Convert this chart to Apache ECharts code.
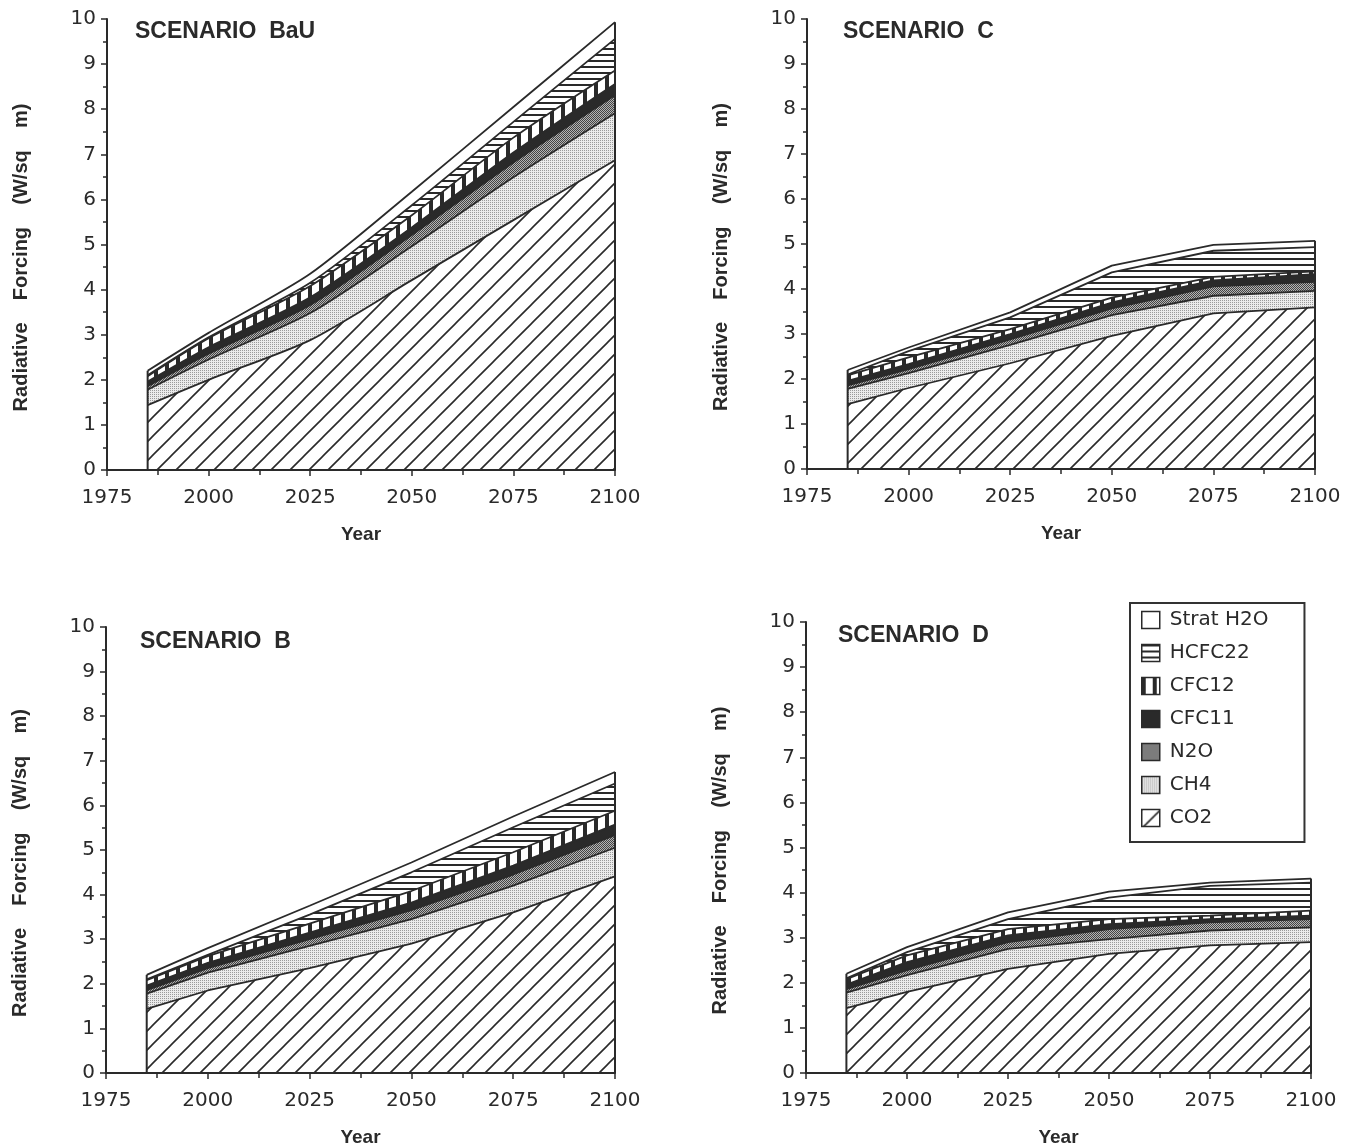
<!DOCTYPE html>
<html><head><meta charset="utf-8">
<script src="https://cdn.jsdelivr.net/npm/echarts@6/dist/echarts.min.js"></script>
<style>html,body{margin:0;padding:0;background:#fff}#c{width:1360px;height:1148px}</style>
</head><body><div id="c"></div>
<script>
// ---- data ----
const years = [1985, 2000, 2025, 2050, 2075, 2100];
const gases = ['CO2', 'CH4', 'N2O', 'CFC11', 'CFC12', 'HCFC22', 'Strat H2O'];
const legendOrder = ['Strat H2O', 'HCFC22', 'CFC12', 'CFC11', 'N2O', 'CH4', 'CO2'];
const scenarioTitles = ['SCENARIO  BaU', 'SCENARIO  C', 'SCENARIO  B', 'SCENARIO  D'];

// Scenario BaU (W/sq m contribution of each gas)
const bauCO2    = [1.44, 2.00, 2.88, 4.21, 5.54, 6.87];
const bauCH4    = [0.34, 0.45, 0.60, 0.75, 0.95, 1.04];
const bauN2O    = [0.08, 0.13, 0.18, 0.25, 0.33, 0.40];
const bauCFC11  = [0.10, 0.14, 0.17, 0.17, 0.22, 0.25];
const bauCFC12  = [0.12, 0.20, 0.25, 0.27, 0.33, 0.30];
const bauHCFC22 = [0.02, 0.02, 0.07, 0.22, 0.35, 0.70];
const bauH2O    = [0.10, 0.10, 0.20, 0.30, 0.33, 0.37];

// Scenario C
const cCO2    = [1.44, 1.80, 2.35, 2.96, 3.46, 3.59];
const cCH4    = [0.34, 0.33, 0.41, 0.46, 0.39, 0.37];
const cN2O    = [0.08, 0.09, 0.12, 0.15, 0.21, 0.20];
const cCFC11  = [0.10, 0.11, 0.12, 0.13, 0.13, 0.17];
const cCFC12  = [0.12, 0.15, 0.11, 0.11, 0.08, 0.06];
const cHCFC22 = [0.02, 0.14, 0.26, 0.56, 0.58, 0.54];
const cH2O    = [0.10, 0.08, 0.11, 0.15, 0.13, 0.14];

// Scenario B
const bCO2    = [1.44, 1.85, 2.35, 2.90, 3.60, 4.41];
const bCH4    = [0.34, 0.40, 0.50, 0.55, 0.60, 0.64];
const bN2O    = [0.08, 0.10, 0.15, 0.20, 0.25, 0.28];
const bCFC11  = [0.10, 0.12, 0.15, 0.17, 0.20, 0.24];
const bCFC12  = [0.12, 0.15, 0.20, 0.26, 0.30, 0.31];
const bHCFC22 = [0.02, 0.03, 0.20, 0.42, 0.56, 0.61];
const bH2O    = [0.10, 0.15, 0.20, 0.22, 0.24, 0.26];

// Scenario D
const dCO2    = [1.44, 1.80, 2.31, 2.64, 2.83, 2.90];
const dCH4    = [0.34, 0.37, 0.44, 0.33, 0.33, 0.33];
const dN2O    = [0.08, 0.11, 0.15, 0.22, 0.18, 0.18];
const dCFC11  = [0.10, 0.18, 0.15, 0.11, 0.07, 0.08];
const dCFC12  = [0.12, 0.15, 0.14, 0.11, 0.08, 0.11];
const dHCFC22 = [0.02, 0.07, 0.22, 0.48, 0.66, 0.62];
const dH2O    = [0.10, 0.11, 0.15, 0.13, 0.07, 0.09];

const scenarioLayers = [
  [bauCO2, bauCH4, bauN2O, bauCFC11, bauCFC12, bauHCFC22, bauH2O],
  [cCO2, cCH4, cN2O, cCFC11, cCFC12, cHCFC22, cH2O],
  [bCO2, bCH4, bN2O, bCFC11, bCFC12, bHCFC22, bH2O],
  [dCO2, dCH4, dN2O, dCFC11, dCFC12, dHCFC22, dH2O]
];
const scenarioSmooth = [0.25, 0, 0, 0];

// ---- styles ----
const INK = '#2a2a2a';
function tile(w, h, draw) {
  const c = document.createElement('canvas');
  c.width = w; c.height = h;
  const g = c.getContext('2d');
  g.fillStyle = '#fff'; g.fillRect(0, 0, w, h);
  draw(g);
  return { image: c, repeat: 'repeat' };
}
const fills = {
  'CO2': tile(19, 19, g => {
    g.strokeStyle = INK; g.lineWidth = 1.6; g.beginPath();
    g.moveTo(-2, 21); g.lineTo(21, -2);
    g.moveTo(-2, 2); g.lineTo(2, -2);
    g.moveTo(17, 21); g.lineTo(21, 17);
    g.stroke();
  }),
  'CH4': tile(2, 2, g => {
    g.fillStyle = '#ebebeb'; g.fillRect(0, 0, 2, 2);
    g.fillStyle = '#9a9a9a'; g.fillRect(0, 0, 1, 1);
  }),
  'N2O': tile(2, 2, g => {
    g.fillStyle = '#b4b4b4'; g.fillRect(0, 0, 2, 2);
    g.fillStyle = '#444'; g.fillRect(0, 0, 1, 1); g.fillRect(1, 1, 1, 1);
  }),
  'CFC11': INK,
  'CFC12': tile(11, 4, g => { g.fillStyle = INK; g.fillRect(0, 0, 4, 4); }),
  'HCFC22': tile(4, 6, g => { g.fillStyle = INK; g.fillRect(0, 0, 4, 2); }),
  'Strat H2O': '#ffffff'
};

const grids = [
  { left: 107, top: 19, width: 508, height: 451 },
  { left: 807, top: 19, width: 508, height: 450 },
  { left: 106, top: 627, width: 509, height: 446 },
  { left: 806, top: 622, width: 505, height: 454 }
];
const titlePos = [[135, 20], [843, 20], [140, 630], [838, 624]];

const labelFont = { fontFamily: 'DejaVu Sans', fontSize: 20, color: INK };
const nameFont = { fontFamily: 'Liberation Sans', fontWeight: 'bold', fontSize: 20, color: INK };

const xAxes = [], yAxes = [], series = [];
grids.forEach((gr, i) => {
  xAxes.push({
    type: 'value', gridIndex: i, min: 1975, max: 2100, interval: 25, z: 10,
    name: 'Year', nameLocation: 'middle', nameGap: 55,
    nameTextStyle: Object.assign({}, nameFont, { fontSize: 19 }),
    axisLine: { onZero: false, lineStyle: { color: INK, width: 2 } },
    axisTick: { show: true, length: 6, lineStyle: { color: INK, width: 1.5 } },
    minorTick: { show: true, splitNumber: 2, length: 5, lineStyle: { color: INK, width: 1.5 } },
    axisLabel: Object.assign({ margin: 18, formatter: v => String(v) }, labelFont),
    splitLine: { show: false }
  });
  yAxes.push({
    type: 'value', gridIndex: i, min: 0, max: 10, interval: 1, z: 10,
    name: 'Radiative    Forcing    (W/sq    m)', nameLocation: 'middle', nameGap: 76,
    nameTextStyle: Object.assign({ padding: [0, 26, 0, 0] }, nameFont),
    axisLine: { show: true, onZero: false, lineStyle: { color: INK, width: 2 } },
    axisTick: { show: true, length: 6, lineStyle: { color: INK, width: 1.5 } },
    minorTick: { show: true, splitNumber: 2, length: 4, lineStyle: { color: INK, width: 1.5 } },
    axisLabel: Object.assign({ margin: 11 }, labelFont),
    splitLine: { show: false }
  });
  const layers = scenarioLayers[i];
  // cumulative tops of each layer (stack computed from the named arrays)
  const cum = [];
  layers.forEach((vals, k) => {
    cum.push(vals.map((v, j) => v + (k > 0 ? cum[k - 1][j] : 0)));
  });
  // draw from the top layer down, each area filled to zero; lower layers paint over
  for (let k = layers.length - 1; k >= 0; k--) {
    series.push({
      type: 'line', name: gases[k], xAxisIndex: i, yAxisIndex: i,
      symbol: 'none', silent: true, smooth: scenarioSmooth[i],
      data: years.map((y, j) => [y, +cum[k][j].toFixed(3)]),
      lineStyle: { color: INK, width: 1.8 },
      itemStyle: { color: INK },
      areaStyle: { color: fills[gases[k]], opacity: 1, origin: 'start' },
      z: 2
    });
  }
  const totals = cum[cum.length - 1];
  [0, years.length - 1].forEach(j => {
    series.push({
      type: 'line', name: 'edge', xAxisIndex: i, yAxisIndex: i, symbol: 'none', silent: true,
      data: [[years[j], 0], [years[j], +totals[j].toFixed(3)]],
      lineStyle: { color: INK, width: 2 }, z: 3
    });
  });
});

const option = {
  backgroundColor: '#ffffff',
  animation: false,
  title: scenarioTitles.map((t, i) => ({
    text: t, left: titlePos[i][0], top: titlePos[i][1], padding: 0,
    textStyle: { fontFamily: 'Liberation Sans', fontWeight: 'bold', fontSize: 23, color: INK }
  })),
  legend: {
    orient: 'vertical', left: 1130, top: 603,
    padding: [7, 36, 14, 11], itemGap: 13, itemWidth: 18, itemHeight: 17,
    icon: 'rect',
    borderColor: '#333', borderWidth: 2,
    textStyle: { fontFamily: 'DejaVu Sans', fontSize: 20, color: INK, lineHeight: 17, padding: [0, 0, 0, 5] },
    selectedMode: false,
    data: legendOrder.map(n => ({
      name: n,
      itemStyle: { color: fills[n], borderColor: INK, borderWidth: 1.5 }
    }))
  },
  grid: grids,
  xAxis: xAxes,
  yAxis: yAxes,
  series: series
};
const chart = echarts.init(document.getElementById('c'), null, { renderer: 'canvas' });
chart.setOption(option);
</script>
</body></html>
